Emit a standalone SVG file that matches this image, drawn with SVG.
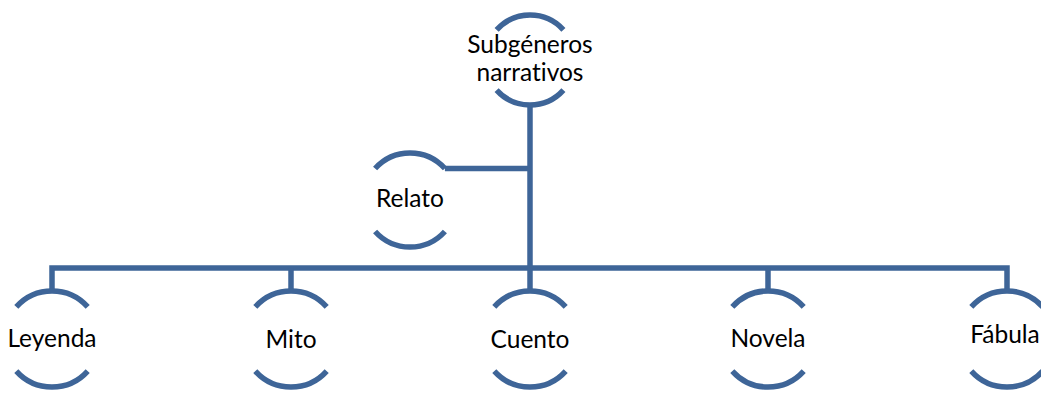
<svg xmlns="http://www.w3.org/2000/svg" width="1041" height="393" viewBox="0 0 1041 393">
<style>
.arc{fill:none;stroke:#3E6598;stroke-width:5.5;stroke-linecap:butt}
.con{fill:none;stroke:#3E6598;stroke-width:5.5;stroke-linejoin:miter}
.t{font-family:Lato,"Liberation Sans",sans-serif;font-size:24.5px;fill:#000;text-anchor:middle;font-variant-ligatures:none}
</style>
<rect width="1041" height="393" fill="#fff"/>
<g id="connectors">
<path class="con" d="M530,105 V268"/>
<path class="con" d="M52,291 V268 H1007 V291"/>
<path class="con" d="M291,268 V291"/>
<path class="con" d="M530,268 V291"/>
<path class="con" d="M768,268 V291"/>
<path class="con" d="M444.9,168.5 H530"/>
</g>
<g id="subgeneros">
<path class="arc" d="M496.6,29.9 A45,45 0 0 1 563.4,29.9"/>
<path class="arc" d="M496.6,90.1 A45,45 0 0 0 563.4,90.1"/>
<text class="t" x="530" y="53">Subgéneros</text>
<text class="t" x="530" y="81">narrativos</text>
</g>
<g id="relato">
<path class="arc" d="M375.1,168.5 A47,47 0 0 1 444.9,168.5"/>
<path class="arc" d="M375.1,231.5 A47,47 0 0 0 444.9,231.5"/>
<text class="t" x="410" y="207">Relato</text>
</g>
<g id="leyenda">
<path class="arc" d="M16.3,306.9 A48,48 0 0 1 87.7,306.9"/>
<path class="arc" d="M16.3,371.1 A48,48 0 0 0 87.7,371.1"/>
<text class="t" x="52" y="347">Leyenda</text>
</g>
<g id="mito">
<path class="arc" d="M255.3,306.9 A48,48 0 0 1 326.7,306.9"/>
<path class="arc" d="M255.3,371.1 A48,48 0 0 0 326.7,371.1"/>
<text class="t" x="291" y="348">Mito</text>
</g>
<g id="cuento">
<path class="arc" d="M494.3,306.9 A48,48 0 0 1 565.7,306.9"/>
<path class="arc" d="M494.3,371.1 A48,48 0 0 0 565.7,371.1"/>
<text class="t" x="530" y="348">Cuento</text>
</g>
<g id="novela">
<path class="arc" d="M732.3,306.9 A48,48 0 0 1 803.7,306.9"/>
<path class="arc" d="M732.3,371.1 A48,48 0 0 0 803.7,371.1"/>
<text class="t" x="768" y="347">Novela</text>
</g>
<g id="fabula">
<path class="arc" d="M971.3,306.9 A48,48 0 0 1 1042.7,306.9"/>
<path class="arc" d="M971.3,371.1 A48,48 0 0 0 1042.7,371.1"/>
<text class="t" x="1005" y="343">Fábula</text>
</g>
</svg>
